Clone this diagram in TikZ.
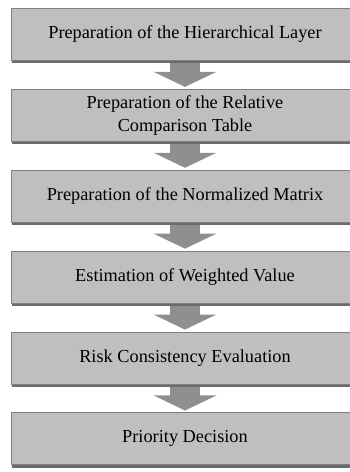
\documentclass[tikz,border=0pt]{standalone}
\usepackage{fontspec}
\setmainfont{Liberation Serif}
\usetikzlibrary{arrows.meta, positioning, shadows}

\begin{document}
\begin{tikzpicture}[
  x=1pt, y=1pt,
  font=\fontsize{18.3}{23}\selectfont,
  node distance=28.5pt,
  bx/.style={draw=black!50, fill=black!25, align=center, inner sep=2pt,
             minimum width=348pt, minimum height=52pt, text=black,
             drop shadow={shadow xshift=1pt, shadow yshift=-3pt,
                          fill=black!58, opacity=1}},
  ar/.style={line width=30pt, draw=black!44, shorten <=3pt, shorten >=2pt,
             -{Triangle[width=62pt, length=15pt]}},
]
\useasboundingbox (0,0) rectangle (350,472);

\node[bx, anchor=north] (layer) at (185,464) {Preparation of the Hierarchical Layer};
\node[bx, below=of layer] (table) {Preparation of the Relative\\Comparison Table};
\node[bx, below=of table] (matrix) {Preparation of the Normalized Matrix};
\node[bx, below=of matrix] (weight) {Estimation of Weighted Value};
\node[bx, below=of weight] (risk) {Risk Consistency Evaluation};
\node[bx, below=of risk] (prio) {Priority Decision};

\draw[ar] (layer.south) -- (table.north);
\draw[ar] (table.south) -- (matrix.north);
\draw[ar] (matrix.south) -- (weight.north);
\draw[ar] (weight.south) -- (risk.north);
\draw[ar] (risk.south) -- (prio.north);
\end{tikzpicture}
\end{document}
